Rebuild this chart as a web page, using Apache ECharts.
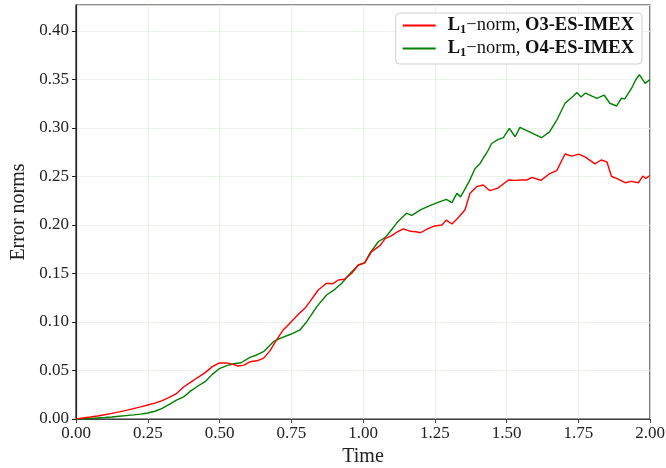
<!DOCTYPE html>
<html>
<head>
<meta charset="utf-8">
<script src="https://cdn.jsdelivr.net/npm/echarts@6/dist/echarts.min.js"></script>
<style>
html,body{margin:0;padding:0;background:#fff;}
#chart{width:666px;height:468px;}
</style>
</head>
<body>
<div id="chart"></div>
<script>
// Series names
var seriesNames = ['O3-ES-IMEX', 'O4-ES-IMEX'];

// O3-ES-IMEX (red) L1-norm error vs time
var timeO3 = [0.000,0.025,0.050,0.075,0.100,0.125,0.150,0.175,0.200,0.225,0.250,0.275,0.300,0.325,0.350,0.375,0.400,0.425,0.450,0.475,0.500,0.525,0.550,0.565,0.585,0.606,0.630,0.653,0.675,0.700,0.722,0.750,0.775,0.800,0.815,0.844,0.873,0.895,0.914,0.935,0.960,0.984,1.006,1.030,1.060,1.077,1.100,1.120,1.140,1.165,1.185,1.200,1.225,1.250,1.275,1.290,1.310,1.330,1.355,1.373,1.396,1.419,1.442,1.470,1.507,1.530,1.550,1.570,1.590,1.620,1.652,1.675,1.704,1.728,1.752,1.775,1.808,1.830,1.850,1.866,1.884,1.913,1.935,1.960,1.975,1.985,2.000];
var errO3  = [0.0000,0.0010,0.0020,0.0031,0.0044,0.0058,0.0073,0.0089,0.0107,0.0125,0.0144,0.0163,0.0190,0.0222,0.0262,0.0330,0.0380,0.0430,0.0478,0.0540,0.0578,0.0578,0.0560,0.0546,0.0555,0.0590,0.0600,0.0625,0.0700,0.0820,0.0918,0.1003,0.1080,0.1150,0.1210,0.1330,0.1400,0.1395,0.1433,0.1440,0.1500,0.1588,0.1610,0.1725,0.1790,0.1860,0.1890,0.1930,0.1960,0.1935,0.1930,0.1920,0.1960,0.1990,0.2000,0.2050,0.2010,0.2070,0.2155,0.2327,0.2395,0.2412,0.2354,0.2380,0.2464,0.2460,0.2464,0.2464,0.2490,0.2460,0.2533,0.2560,0.2732,0.2710,0.2730,0.2700,0.2630,0.2670,0.2650,0.2500,0.2480,0.2436,0.2450,0.2436,0.2505,0.2480,0.2510];

// O4-ES-IMEX (green) L1-norm error vs time
var timeO4 = [0.000,0.025,0.050,0.075,0.100,0.125,0.150,0.175,0.200,0.225,0.250,0.275,0.300,0.325,0.350,0.375,0.400,0.425,0.450,0.475,0.500,0.525,0.550,0.575,0.606,0.630,0.653,0.688,0.711,0.750,0.780,0.804,0.839,0.873,0.902,0.926,0.955,0.984,1.006,1.024,1.054,1.077,1.094,1.120,1.152,1.170,1.200,1.225,1.250,1.290,1.310,1.327,1.340,1.344,1.370,1.390,1.408,1.419,1.436,1.448,1.470,1.489,1.510,1.530,1.547,1.580,1.622,1.650,1.675,1.704,1.733,1.745,1.760,1.775,1.815,1.840,1.860,1.884,1.900,1.912,1.936,1.950,1.963,1.983,2.000];
var errO4  = [0.0000,0.0002,0.0005,0.0010,0.0015,0.0021,0.0028,0.0035,0.0042,0.0050,0.0062,0.0080,0.0110,0.0150,0.0195,0.0227,0.0290,0.0340,0.0385,0.0460,0.0520,0.0550,0.0570,0.0580,0.0636,0.0660,0.0694,0.0797,0.0832,0.0876,0.0918,0.1003,0.1158,0.1278,0.1337,0.1400,0.1500,0.1588,0.1610,0.1710,0.1830,0.1870,0.1930,0.2030,0.2120,0.2100,0.2155,0.2190,0.2220,0.2265,0.2230,0.2326,0.2290,0.2300,0.2450,0.2580,0.2635,0.2690,0.2770,0.2840,0.2880,0.2900,0.2995,0.2910,0.3007,0.2960,0.2900,0.2960,0.3080,0.3255,0.3330,0.3365,0.3320,0.3360,0.3306,0.3340,0.3255,0.3227,0.3306,0.3300,0.3410,0.3495,0.3550,0.3460,0.3500];

// Axis ticks
var xTicks = [0.00,0.25,0.50,0.75,1.00,1.25,1.50,1.75,2.00];
var yTicks = [0.00,0.05,0.10,0.15,0.20,0.25,0.30,0.35,0.40];

function pairs(t, v){ return t.map(function(x,i){ return [x, v[i]]; }); }

var serif = '"Liberation Serif", "DejaVu Serif", serif';
var chart = echarts.init(document.getElementById('chart'), null, {renderer:'canvas'});
chart.setOption({
  animation:false,
  backgroundColor:'#fff',
  textStyle:{fontFamily:serif},
  grid:{left:76, right:16, top:5, bottom:49, containLabel:false, outerBoundsMode:'none',
        show:true, borderColor:'#222', borderWidth:1.2, backgroundColor:'transparent'},
  xAxis:{
    type:'value', min:xTicks[0], max:xTicks[xTicks.length-1], interval:0.25,
    name:'Time', nameLocation:'middle', nameGap:25,
    nameTextStyle:{fontFamily:serif, fontSize:20, color:'#222'},
    axisLine:{show:true, lineStyle:{color:'#444', width:1.2}},
    axisTick:{show:true, length:4, lineStyle:{color:'#444'}},
    axisLabel:{fontFamily:serif, fontSize:17, color:'#222', margin:6, formatter:function(v){return v.toFixed(2);}},
    splitLine:{show:true, lineStyle:{color:'#e4efe4', width:0.8}}
  },
  yAxis:{
    type:'value', min:yTicks[0], max:0.4268, interval:0.05,
    name:'Error norms', nameLocation:'middle', nameGap:43,
    nameTextStyle:{fontFamily:serif, fontSize:20, color:'#222'},
    axisLine:{show:true, lineStyle:{color:'#222', width:1.2}},
    axisTick:{show:true, length:4, lineStyle:{color:'#222'}},
    axisLabel:{fontFamily:serif, fontSize:17, color:'#222', margin:7, showMaxLabel:false, formatter:function(v){return v.toFixed(2);}},
    splitLine:{show:true, lineStyle:{color:'#e4efe4', width:0.8}}
  },
  legend:{
    orient:'vertical', right:24, top:13,
    padding:[2,8,5,7], itemGap:2,
    itemWidth:33, itemHeight:2, icon:'rect',
    backgroundColor:'rgba(255,255,255,0.9)',
    borderColor:'#d0d0d0', borderWidth:1, borderRadius:4,
    textStyle:{
      fontFamily:serif, fontSize:18.5, color:'#111',
      rich:{
        sp:{width:7, lineHeight:20},
        b:{fontFamily:serif, fontSize:18.5, fontWeight:'bold', color:'#111', lineHeight:20},
        s:{fontFamily:serif, fontSize:12.5, fontWeight:'bold', color:'#111', lineHeight:20, padding:[8,0,0,0]},
        r:{fontFamily:serif, fontSize:18.5, color:'#111', lineHeight:20}
      }
    },
    formatter:function(name){ return '{sp|}{b|L}{s|1}{r|\u2212norm, }{b|' + name + '}'; },
    data:seriesNames
  },
  series:[
    {name:seriesNames[0], type:'line', data:pairs(timeO3, errO3), showSymbol:false, symbol:'none', smooth:false,
     lineStyle:{color:'#ff0000', width:1.4}, itemStyle:{color:'#ff0000'}, z:3},
    {name:seriesNames[1], type:'line', data:pairs(timeO4, errO4), showSymbol:false, symbol:'none', smooth:false,
     lineStyle:{color:'#008000', width:1.4}, itemStyle:{color:'#008000'}, z:2}
  ]
});
</script>
</body>
</html>
